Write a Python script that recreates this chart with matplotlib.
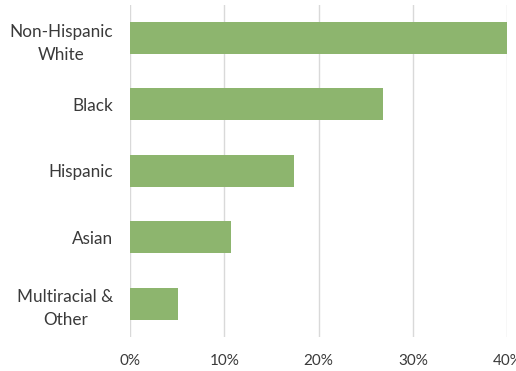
import matplotlib
matplotlib.use("Agg")
import matplotlib.pyplot as plt
from matplotlib.ticker import FuncFormatter

# donnees
categories = ["Non-Hispanic\nWhite", "Black", "Hispanic", "Asian", "Multiracial &\nOther"]
values = [40.1, 26.8, 17.4, 10.7, 5.1]
ticks = [0, 10, 20, 30, 40]

plt.rcParams['font.family'] = ['Lato', 'DejaVu Sans']

fig = plt.figure(figsize=(5.16, 3.71), dpi=100)
ax = fig.add_axes([0.252, 0.092, 0.731, 0.895])

ypos = list(range(len(categories)))
ax.barh(ypos, values, height=0.48, color="#8db56e", zorder=2)
ax.set_yticks(ypos)
ax.set_yticklabels(categories, fontsize=12.3, color="#3a3a3a", linespacing=1.55,
                   multialignment="center")
ax.set_ylim(len(categories) - 0.5, -0.5)

ax.set_xlim(0, 40)
ax.set_xticks(ticks)
ax.xaxis.set_major_formatter(FuncFormatter(lambda v, p: "%d%%" % v))
ax.tick_params(axis="x", length=0, pad=12, labelsize=11, labelcolor="#3a3a3a")
ax.tick_params(axis="y", length=0, pad=12)
ax.grid(axis="x", color="#d9d9d9", linewidth=1, zorder=0)
ax.set_axisbelow(True)
for s in ax.spines.values():
    s.set_visible(False)

fig.savefig("out.png", dpi=100)
